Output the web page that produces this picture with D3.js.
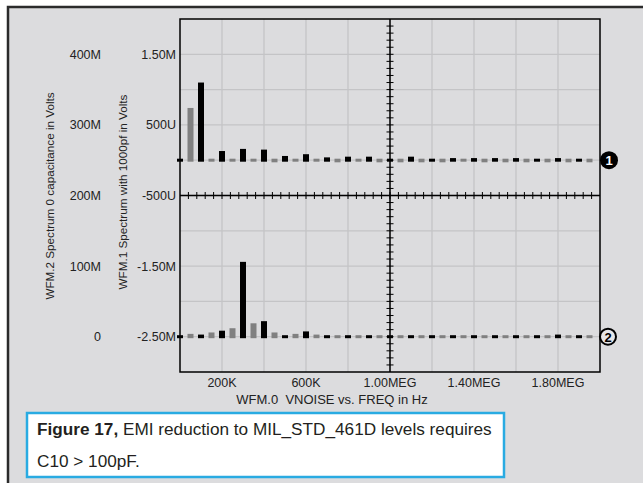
<!DOCTYPE html>
<html>
<head>
<meta charset="utf-8">
<script src="https://cdn.jsdelivr.net/npm/d3@7"></script>
<style>
  body { margin: 0; background: #fff; }
  svg { display: block; font-family: "Liberation Sans", Arial, sans-serif; }
</style>
</head>
<body>
<svg id="chart" width="643" height="483"></svg>
<script>
// frequencies in Hz, one sample every 50K
const freqs = d3.range(0, 2000000, 50000);

// WFM.1 spectrum with 1000pf (volts)
const wfm1 = [
  0, 0.74e-3, 1.1e-3, 0, 0.13e-3, 0, 0.16e-3, 0, 0.15e-3, -0.03e-3,
  0.06e-3, 0, 0.085e-3, 0, 0.04e-3, -0.03e-3, 0.05e-3, 0, 0.05e-3, -0.03e-3,
  0, -0.03e-3, 0.05e-3, -0.03e-3, 0, -0.03e-3, 0.03e-3, 0, 0.03e-3, -0.03e-3,
  0.03e-3, -0.03e-3, 0.03e-3, -0.03e-3, 0, -0.03e-3, 0.03e-3, -0.03e-3, 0, -0.03e-3
];

// WFM.2 spectrum 0 capacitance (volts)
const wfm2 = [
  0, 0.004, 0.003, 0.006, 0.0085, 0.012, 0.106, 0.019, 0.022, 0.006,
  -0.002, 0.004, 0.0075, 0.003, -0.002, 0, 0.002, 0, 0.002, 0,
  0, 0, 0.002, 0, -0.002, 0, 0.002, 0, 0, 0,
  0, 0, 0, 0, 0, 0, 0.003, 0, 0, 0
];

const xTicks = [200000, 600000, 1000000, 1400000, 1800000];
const xTickLabels = ["200K", "600K", "1.00MEG", "1.40MEG", "1.80MEG"];
const y1Ticks = [-2.5e-3, -1.5e-3, -0.5e-3, 0.5e-3, 1.5e-3];
const y1TickLabels = ["-2.50M", "-1.50M", "-500U", "500U", "1.50M"];
const y2Ticks = [0, 0.1, 0.2, 0.3, 0.4];
const y2TickLabels = ["0", "100M", "200M", "300M", "400M"];

const svg = d3.select("#chart");
const pLeft = 180, pRight = 600, pTop = 19, pBottom = 372;

const x = d3.scaleLinear().domain([0, 2000000]).range([pLeft, pRight]);
const y1 = d3.scaleLinear().domain([-3e-3, 2e-3]).range([pBottom, pTop]);
const y2 = d3.scaleLinear().domain([-0.05, 0.45]).range([pBottom, pTop]);

// panel background + frame
svg.append("rect").attr("x", 8).attr("y", 7).attr("width", 640).attr("height", 480)
  .attr("fill", "#dcdcde");
svg.append("path").attr("d", "M8,490 L8,7 L650,7")
  .attr("fill", "none").attr("stroke", "#2b2b2b").attr("stroke-width", 2.5);

// grid
const grid = svg.append("g").attr("stroke", "#c4c4c6").attr("stroke-width", 1.3);
grid.selectAll(".vg").data(d3.range(200000, 2000000, 200000)).join("line")
  .attr("x1", d => x(d)).attr("x2", d => x(d)).attr("y1", pTop).attr("y2", pBottom);
grid.selectAll(".hg").data(d3.range(-2.5e-3, 1.6e-3, 0.5e-3)).join("line")
  .attr("x1", pLeft).attr("x2", pRight).attr("y1", d => y1(d)).attr("y2", d => y1(d));

// bars
function drawTrace(values, y) {
  const y0 = y(0);
  svg.append("g").selectAll("rect").data(values).join("rect")
    .attr("x", (d, i) => x(freqs[i]) - 3)
    .attr("width", 6)
    .attr("y", d => Math.min(y(d), y0 - 1.5))
    .attr("height", d => Math.max(y(d), y0 + 1.5) - Math.min(y(d), y0 - 1.5))
    .attr("fill", (d, i) => i % 2 === 0 ? "#000" : "#808080");
}
drawTrace(wfm1, y1);
drawTrace(wfm2, y2);

// plot border
svg.append("rect").attr("x", pLeft).attr("y", pTop)
  .attr("width", pRight - pLeft).attr("height", pBottom - pTop)
  .attr("fill", "none").attr("stroke", "#000").attr("stroke-width", 1.5);

// centre cross axes with minor ticks
const cx = x(1000000), cy = y1(-0.5e-3);
const cross = svg.append("g").attr("stroke", "#000");
cross.append("line").attr("x1", pLeft).attr("x2", pRight).attr("y1", cy).attr("y2", cy).attr("stroke-width", 1.5);
cross.append("line").attr("x1", cx).attr("x2", cx).attr("y1", pTop).attr("y2", pBottom).attr("stroke-width", 1.5);
cross.selectAll(".tx").data(d3.range(40000, 2000000, 40000)).join("line")
  .attr("x1", d => x(d)).attr("x2", d => x(d)).attr("y1", cy - 3.5).attr("y2", cy + 3.5);
cross.selectAll(".ty").data(d3.range(-2.9e-3, 2e-3, 0.1e-3)).join("line")
  .attr("x1", cx - 3.5).attr("x2", cx + 3.5).attr("y1", d => y1(d)).attr("y2", d => y1(d));

// tick labels
const lab = svg.append("g").attr("fill", "#222").attr("font-size", 12.5);
lab.selectAll(".y1l").data(y1Ticks).join("text")
  .attr("x", 176).attr("y", d => y1(d) + 4.5).attr("text-anchor", "end")
  .text((d, i) => y1TickLabels[i]);
lab.selectAll(".y2l").data(y2Ticks).join("text")
  .attr("x", 101).attr("y", d => y2(d) + 4.5).attr("text-anchor", "end")
  .text((d, i) => y2TickLabels[i]);
lab.selectAll(".xl").data(xTicks).join("text")
  .attr("x", d => x(d)).attr("y", 387).attr("text-anchor", "middle")
  .text((d, i) => xTickLabels[i]);

// axis titles
svg.append("text").attr("x", 332).attr("y", 404).attr("text-anchor", "middle")
  .attr("font-size", 13).attr("fill", "#222").attr("xml:space", "preserve")
  .text("WFM.0  VNOISE vs. FREQ in Hz");
svg.append("text").attr("transform", "translate(54,196) rotate(-90)")
  .attr("text-anchor", "middle").attr("font-size", 11.7).attr("fill", "#222")
  .text("WFM.2 Spectrum 0 capacitance in Volts");
svg.append("text").attr("transform", "translate(127,192) rotate(-90)")
  .attr("text-anchor", "middle").attr("font-size", 11.7).attr("fill", "#222")
  .text("WFM.1 Spectrum with 1000pf in Volts");

// trace markers
svg.append("circle").attr("cx", 609).attr("cy", y1(0)).attr("r", 9).attr("fill", "#000");
svg.append("text").attr("x", 609).attr("y", y1(0) + 5).attr("text-anchor", "middle")
  .attr("font-size", 13).attr("font-weight", "bold").attr("fill", "#fff").text("1");
svg.append("circle").attr("cx", 608).attr("cy", y2(0)).attr("r", 8)
  .attr("fill", "#e6e6e8").attr("stroke", "#000").attr("stroke-width", 2);
svg.append("text").attr("x", 608).attr("y", y2(0) + 5).attr("text-anchor", "middle")
  .attr("font-size", 13).attr("font-weight", "bold").attr("fill", "#000").text("2");

// caption
svg.append("rect").attr("x", 27).attr("y", 413).attr("width", 477).attr("height", 64)
  .attr("fill", "#fff").attr("stroke", "#29abe2").attr("stroke-width", 2.5);
const cap = svg.append("text").attr("x", 37).attr("y", 435).attr("font-size", 17.2).attr("fill", "#231f20");
cap.append("tspan").attr("font-weight", "bold").text("Figure 17,");
cap.append("tspan").text(" EMI reduction to MIL_STD_461D levels requires");
svg.append("text").attr("x", 37).attr("y", 467).attr("font-size", 17.2).attr("fill", "#231f20")
  .text("C10 > 100pF.");
</script>
</body>
</html>
